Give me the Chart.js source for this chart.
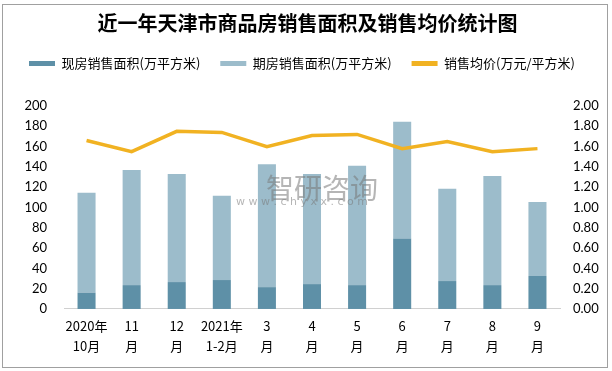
<!DOCTYPE html>
<html>
<head>
<meta charset="utf-8">
<script src="https://cdn.jsdelivr.net/npm/chart.js@4"></script>
<style>
  body { margin: 0; background: #fff; }
  #wrap { width: 612px; height: 371px; position: relative; }
</style>
</head>
<body>
<div id="wrap"><canvas id="barChart" width="612" height="371"></canvas></div>
<script>
const months = [['2020年', '10月'], ['11', '月'], ['12', '月'], ['2021年', '1-2月'], ['3', '月'], ['4', '月'],
  ['5', '月'], ['6', '月'], ['7', '月'], ['8', '月'], ['9', '月']];
const xianfang = [16, 23.5, 26.5, 28.5, 21.5, 24.5, 23.5, 69.5, 27.5, 23.5, 32.5];
const qifang = [98.5, 113.5, 106.5, 83, 121, 108.5, 117.5, 115, 91, 107.5, 73];
const junjia = [1.66, 1.55, 1.75, 1.74, 1.60, 1.71, 1.72, 1.58, 1.65, 1.55, 1.58];

const cjk = "'Noto Sans CJK SC', sans-serif";

// frame + watermark
const extras = {
  id: 'extras',
  beforeInit(chart) {
    // empty strip between the legend and the plot
    Chart.layouts.addBox(chart, {
      position: 'top', weight: 0, fullSize: true, options: {},
      width: 0, height: 26,
      isHorizontal() { return true; },
      update(maxW) { this.width = maxW; this.height = 26; },
      draw() {}
    });
  },
  beforeDraw(chart) {
    const c = chart.ctx;
    c.save();
    c.fillStyle = '#fff';
    c.fillRect(0, 0, chart.width, chart.height);
    c.strokeStyle = '#a0a0a0';
    c.lineWidth = 1;
    c.strokeRect(2.5, 4.5, 605, 363);
    c.restore();
  },
  afterDatasetsDraw(chart) {
    const c = chart.ctx;
    c.save();
    c.fillStyle = 'rgba(120,120,120,0.55)';
    c.font = "28px " + cjk;
    c.fillText('智研咨询', 266, 188);
    c.font = "11px 'DejaVu Sans'";
    c.fillText('w w w . c h y x x . c o m', 236, 202);
    c.restore();
  }
};

const ctx = document.getElementById('barChart').getContext('2d');
new Chart(ctx, {
  type: 'bar',
  data: {
    labels: months,
    datasets: [
      {
        label: '现房销售面积(万平方米)',
        data: xianfang,
        backgroundColor: '#5e90a7',
        stack: 's',
        order: 1
      },
      {
        label: '期房销售面积(万平方米)',
        data: qifang,
        backgroundColor: '#9cbccb',
        stack: 's',
        order: 1
      },
      {
        type: 'line',
        label: '销售均价(万元/平方米)',
        data: junjia,
        yAxisID: 'y1',
        borderColor: '#f1b222',
        backgroundColor: '#f1b222',
        borderWidth: 3.5,
        pointRadius: 0,
        tension: 0,
        order: 0
      }
    ]
  },
  options: {
    responsive: false,
    animation: false,
    barPercentage: 0.4,
    categoryPercentage: 1,
    layout: { padding: { left: 9, right: 6, top: 0, bottom: 8 } },
    plugins: {
      title: {
        display: true,
        text: '近一年天津市商品房销售面积及销售均价统计图',
        color: '#000',
        font: { family: cjk, size: 20, weight: 'bold' },
        padding: { top: 11, bottom: 2 }
      },
      legend: {
        position: 'top',
        align: 'start',
        labels: {
          boxWidth: 26,
          boxHeight: 5,
          padding: 20,
          color: '#000',
          font: { family: cjk, size: 13 },
          sort: (a, b) => a.datasetIndex - b.datasetIndex,
          generateLabels(chart) {
            const items = Chart.defaults.plugins.legend.labels.generateLabels(chart);
            items.forEach(it => { it.lineWidth = 0; });
            return items;
          }
        }
      },
      tooltip: { enabled: false }
    },
    scales: {
      x: {
        stacked: true,
        grid: { display: false, drawTicks: false },
        border: { color: '#d0d0d0' },
        ticks: { color: '#000', font: { family: cjk, size: 13, lineHeight: 1.54 }, maxRotation: 0, autoSkip: false, padding: 7 }
      },
      y: {
        stacked: true,
        min: 0, max: 200,
        grid: { display: false, drawTicks: false },
        border: { display: false },
        afterFit(s) { s.width = 55; },
        ticks: { stepSize: 20, autoSkip: false, color: '#000', font: { family: 'Lato', size: 13 }, padding: 17 }
      },
      y1: {
        position: 'right',
        min: 0, max: 2,
        grid: { display: false, drawTicks: false },
        border: { display: false },
        afterFit(s) { s.width = 46; },
        ticks: {
          stepSize: 0.2, autoSkip: false, color: '#000', font: { family: 'Lato', size: 13 }, padding: 13,
          callback: v => v.toFixed(2)
        }
      }
    }
  },
  plugins: [extras]
});
</script>
</body>
</html>
